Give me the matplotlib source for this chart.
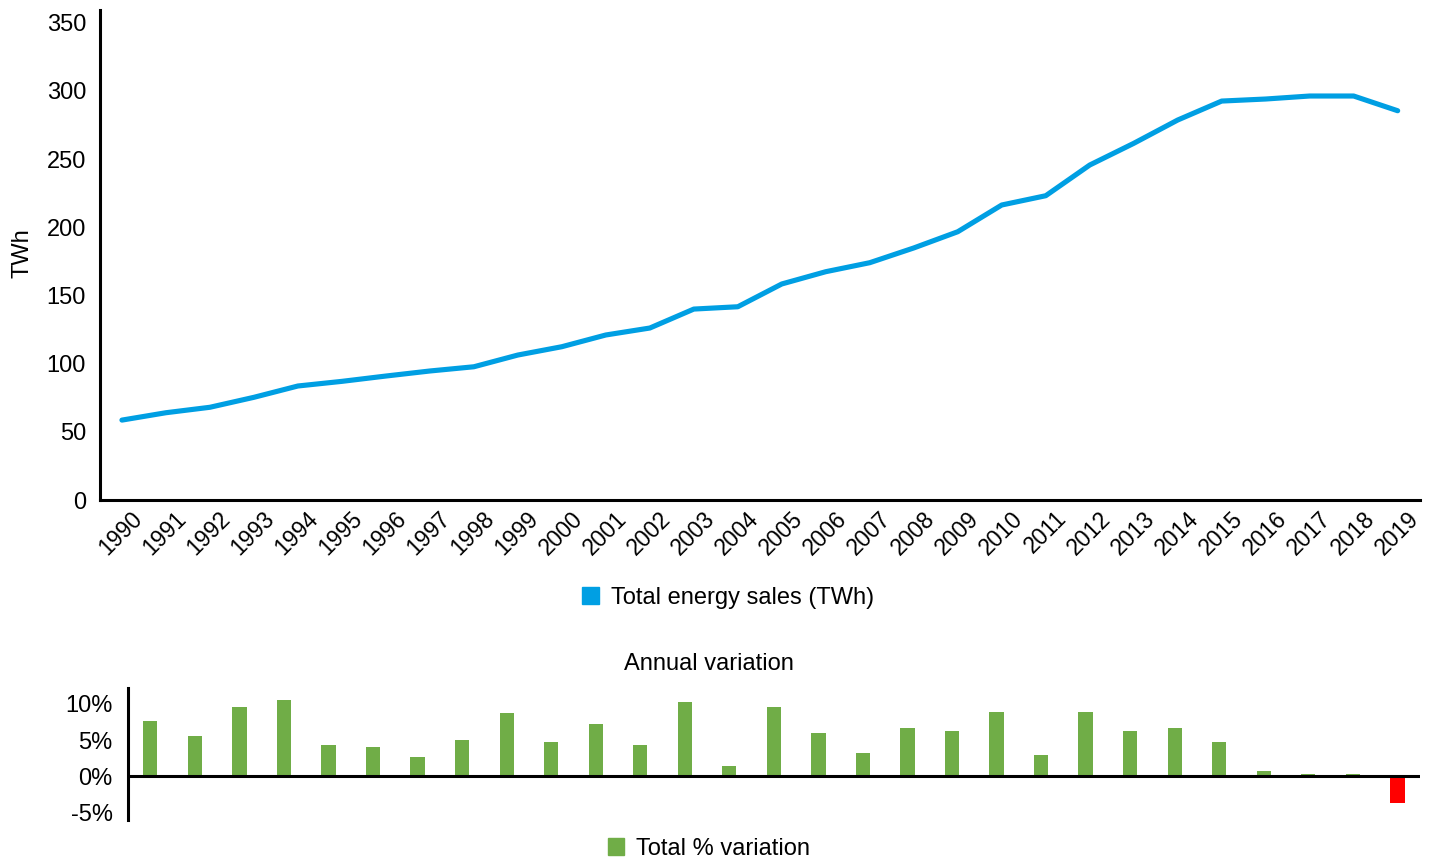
import matplotlib.pyplot as plt
import matplotlib.transforms as mtransforms
import numpy as np
from matplotlib.patches import Patch

plt.rcParams['font.family'] = ['Liberation Sans', 'DejaVu Sans']

years = [str(y) for y in range(1990, 2020)]
sales_twh = [58.6, 64.0, 68.0, 75.3, 83.6, 87.0, 90.9, 94.6, 97.7, 106.3,
             112.4, 121.0, 126.1, 140.0, 141.7, 158.4, 167.4, 174.0, 184.8, 196.7,
             216.3, 223.1, 245.6, 261.5, 278.6, 292.5, 294.0, 296.2, 296.2, 285.4]
var_years = years[1:]
var_pct = [7.7, 5.6, 9.6, 10.6, 4.4, 4.0, 2.75, 5.0, 8.7, 4.7,
           7.3, 4.4, 10.3, 1.4, 9.6, 6.0, 3.3, 6.7, 6.3, 8.9,
           3.0, 8.9, 6.3, 6.7, 4.7, 0.7, 0.4, 0.4, -3.7]

blue = '#009FE3'
green = '#70AD47'
red = '#FF0000'
fs = 17

fig = plt.figure(figsize=(14.34, 8.63), dpi=100)

# top: total sales line
ax = fig.add_axes([0.0697, 0.4206, 0.9203, 0.5674])
x = np.arange(len(years))
ax.plot(x, sales_twh, color=blue, lw=3.7, solid_capstyle='round', solid_joinstyle='round')
ax.set_xlim(-0.5, len(years) - 0.5)
ax.set_ylim(0, 359)
ax.set_yticks(range(0, 351, 50))
ax.set_xticks(x)
ax.set_xticklabels(years, rotation=45, ha='right', va='top', rotation_mode='anchor', fontsize=16.5)
ax.tick_params(axis='y', labelsize=fs, length=0, pad=10)
ax.tick_params(axis='x', length=0, pad=5)
# nudge the rotated year labels to the right (after tick_params, which resets transforms)
shift = mtransforms.ScaledTranslation(9 / 100, 0, fig.dpi_scale_trans)
for lbl in ax.get_xticklabels():
    lbl.set_transform(lbl.get_transform() + shift)
for s in ['top', 'right']:
    ax.spines[s].set_visible(False)
for s in ['left', 'bottom']:
    ax.spines[s].set_linewidth(2.2)
ax.set_ylabel('TWh', fontsize=fs)
ax.yaxis.set_label_coords(-0.050, 0.505)

fig.legend(handles=[Patch(color=blue, label='Total energy sales (TWh)')],
           loc='center', bbox_to_anchor=(728 / 1434, 1 - 598 / 863), frameon=False,
           fontsize=fs, handlelength=0.7, handleheight=0.7, handletextpad=0.5)

# bottom: annual variation bars
ax2 = fig.add_axes([0.0893, 0.0498, 0.9007, 0.153])
xb = np.arange(len(var_years))
cols = [green if v >= 0 else red for v in var_pct]
ax2.bar(xb, var_pct, width=0.32, color=cols, edgecolor=cols, linewidth=0)
ax2.axhline(0, color='black', lw=2.2)
ax2.set_xlim(-0.5, len(var_years) - 0.5)
ax2.set_ylim(-6, 12.2)
ax2.set_yticks([-5, 0, 5, 10])
ax2.set_yticklabels(['-5%', '0%', '5%', '10%'])
ax2.set_xticks([])
ax2.tick_params(axis='y', labelsize=fs, length=0, pad=11)
for s in ['top', 'right', 'bottom']:
    ax2.spines[s].set_visible(False)
ax2.spines['left'].set_linewidth(2.2)

fig.text(709 / 1434, 1 - 664 / 863, 'Annual variation', ha='center', va='center', fontsize=fs)
fig.legend(handles=[Patch(color=green, label='Total % variation')],
           loc='center', bbox_to_anchor=(709 / 1434, 1 - 849 / 863), frameon=False,
           fontsize=fs, handlelength=0.7, handleheight=0.7, handletextpad=0.5)

fig.savefig('out.png', dpi=100)
